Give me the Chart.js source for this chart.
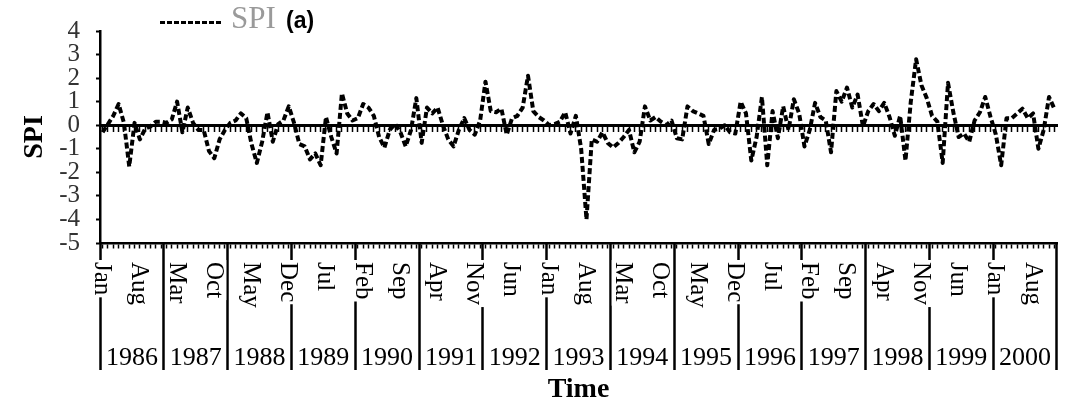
<!DOCTYPE html>
<html>
<head>
<meta charset="utf-8">
<title>SPI (a)</title>
<script src="https://cdn.jsdelivr.net/npm/chart.js@4.4.1/dist/chart.umd.min.js"></script>
<style>
    html, body { margin: 0; padding: 0; background: #fff; }
    canvas { display: block; }
</style>
</head>
<body>
<canvas id="spiChart" width="1077" height="409"></canvas>
<script>
// =========================================
// DATA
// =========================================
const years = ['1986', '1987', '1988', '1989', '1990', '1991', '1992', '1993',
               '1994', '1995', '1996', '1997', '1998', '1999', '2000'];
const monthNames = ['Jan', 'Feb', 'Mar', 'Apr', 'May', 'Jun',
                    'Jul', 'Aug', 'Sep', 'Oct', 'Nov', 'Dec'];
const yTickValues = [-5, -4, -3, -2, -1, 0, 1, 2, 3, 4];
const monthLabelStep = 7; // a month name every 7 months

// monthly SPI, one row per year (Jan..Dec)
const spi = [
    -0.3, 0.05, 0.4, 0.9, 0.1, -1.75, 0.1, -0.6, -0.15, -0.05, 0.15, 0.15,
    0.1, 0.25, 1.0, -0.3, 0.75, 0.1, -0.2, -0.2, -1.1, -1.4, -0.6, -0.2,
    0.1, 0.2, 0.5, 0.3, -0.8, -1.6, -0.7, 0.55, -0.7, 0.05, 0.2, 0.8,
    0.1, -0.8, -0.9, -1.45, -1.2, -1.7, 0.35, -0.5, -1.2, 1.35, 0.5, 0.2,
    0.3, 0.9, 0.75, 0.4, -0.5, -0.95, -0.2, 0.05, -0.3, -0.9, -0.2, 1.15,
    -0.75, 0.75, 0.5, 0.75, 0.0, -0.6, -0.9, -0.2, 0.3, -0.2, -0.4, 0.2,
    1.85, 0.6, 0.55, 0.7, -0.4, 0.3, 0.4, 0.75, 2.1, 0.6, 0.35, 0.2,
    0.0, 0.05, 0.15, 0.55, -0.35, 0.4, -1.0, -4.0, -0.6, -0.7, -0.3, -0.75,
    -0.95, -0.75, -0.5, -0.2, -1.15, -0.7, 0.8, 0.2, 0.35, 0.15, 0.0, 0.2,
    -0.55, -0.6, 0.8, 0.6, 0.5, 0.4, -0.8, -0.2, -0.15, 0.0, -0.3, -0.35,
    1.0, 0.5, -1.5, -0.5, 1.2, -1.7, 0.6, -0.55, 0.8, -0.2, 1.1, 0.5,
    -0.9, -0.2, 0.95, 0.35, 0.2, -1.15, 1.45, 1.0, 1.6, 0.75, 1.3, -0.05,
    0.6, 0.9, 0.6, 0.95, 0.35, -0.45, 0.4, -1.5, 1.0, 2.8, 1.7, 1.15,
    0.4, 0.15, -1.6, 1.8, 0.55, -0.5, -0.35, -0.7, 0.2, 0.55, 1.2, 0.35,
    -0.4, -1.7, 0.3, 0.3, 0.5, 0.7, 0.3, 0.5, -1.0, -0.2, 1.2, 0.7
];

// one category per month: "Jan 1986" ... "Dec 2000"
const labels = [];
years.forEach(y => monthNames.forEach(m => labels.push(m + ' ' + y)));

const serif = '"Liberation Serif", "Times New Roman", serif';
Chart.defaults.font.family = serif;
Chart.defaults.color = '#000';

// =========================================
// PLUGIN: rotated month names under the -5 line
// =========================================
const monthTickLabels = {
    id: 'monthTickLabels',
    afterDraw(chart) {
        const ctx = chart.ctx;
        const xs = chart.scales.x;
        const top = chart.chartArea.bottom + 19;
        ctx.save();
        ctx.font = '25px ' + serif;
        ctx.textBaseline = 'middle';
        ctx.textAlign = 'left';
        labels.forEach((lab, i) => {
            if (i % monthLabelStep !== 0) return;
            const txt = lab.split(' ')[0];
            const px = xs.getPixelForValue(i);
            const w = ctx.measureText(txt).width;
            ctx.fillStyle = '#fff';
            ctx.fillRect(px - 12, top - 2, 24, w + 4);
            ctx.save();
            ctx.translate(px, top);
            ctx.rotate(Math.PI / 2);
            ctx.fillStyle = '#000';
            ctx.fillText(txt, 0, 1);
            ctx.restore();
        });
        ctx.restore();
    }
};

// =========================================
// PLUGIN: legend sample + panel tag
// =========================================
const legendSample = {
    id: 'legendSample',
    afterDraw(chart) {
        const ctx = chart.ctx;
        const ds = chart.data.datasets[0];
        ctx.save();
        ctx.strokeStyle = ds.borderColor;
        ctx.lineWidth = 3;
        ctx.setLineDash([5, 2]);
        ctx.beginPath();
        ctx.moveTo(160, 22.5);
        ctx.lineTo(222, 22.5);
        ctx.stroke();
        ctx.setLineDash([]);
        ctx.textBaseline = 'middle';
        ctx.textAlign = 'left';
        ctx.fillStyle = '#9a9a9a';
        ctx.font = '31px ' + serif;
        ctx.fillText(ds.label, 231, 20);
        ctx.fillStyle = '#000';
        ctx.font = 'bold 23px "Liberation Sans", Arial, sans-serif';
        ctx.fillText('(a)', 286, 22);
        ctx.restore();
    }
};

// =========================================
// CHART
// =========================================
const ctx1 = document.getElementById('spiChart').getContext('2d');

new Chart(ctx1, {
    type: 'line',
    data: {
        labels: labels,
        datasets: [
            {
                label: 'SPI',
                data: spi,
                xAxisID: 'x',
                yAxisID: 'y',
                borderColor: '#000',
                borderWidth: 4,
                borderDash: [6, 3],
                borderJoinStyle: 'round',
                pointRadius: 0,
                tension: 0,
                fill: false
            }
        ]
    },
    options: {
        responsive: false,
        animation: false,
        layout: { padding: { top: 23, right: 20, bottom: 0, left: 0 } },
        plugins: {
            legend: { display: false },
            tooltip: { enabled: false }
        },
        scales: {
            y: {
                position: 'left',
                min: -5,
                max: 4,
                afterBuildTicks: s => { s.ticks = yTickValues.map(v => ({ value: v })); },
                ticks: { font: { size: 25 }, color: '#333', padding: 16, autoSkip: false },
                grid: { drawOnChartArea: false, tickLength: 4, tickWidth: 2, tickColor: '#000' },
                border: { color: '#000', width: 2.5 },
                title: {
                    display: true, text: 'SPI', color: '#000',
                    font: { size: 28, weight: 'bold' },
                    padding: { top: 18, bottom: 0 }
                },
                afterFit: s => { s.width = 100; }
            },
            x: {
                type: 'category',
                axis: 'x',
                position: { y: -5 },
                offset: true,
                ticks: { display: false },
                grid: { drawOnChartArea: false, offset: false, tickLength: 4, tickWidth: 1.5, tickColor: '#000' },
                border: { color: '#000', width: 2.5 }
            },
            xZero: {
                type: 'category',
                axis: 'x',
                position: { y: 0 },
                offset: true,
                ticks: { display: false },
                grid: { drawOnChartArea: false, offset: false, tickLength: 5, tickWidth: 1.5, tickColor: '#000' },
                border: { color: '#000', width: 3 }
            },
            year: {
                type: 'category',
                axis: 'x',
                position: 'bottom',
                labels: years,
                offset: true,
                ticks: { font: { size: 26 }, color: '#000', padding: -27, autoSkip: false, maxRotation: 0, minRotation: 0 },
                grid: { drawOnChartArea: false, offset: true, tickLength: 127, tickWidth: 2.5, tickColor: '#000' },
                border: { display: false },
                title: {
                    display: true, text: 'Time', color: '#000',
                    font: { size: 28, weight: 'bold' },
                    padding: { top: 0, bottom: 2 }
                },
                afterFit: s => { s.height = 166; }
            }
        }
    },
    plugins: [monthTickLabels, legendSample]
});
</script>
</body>
</html>
